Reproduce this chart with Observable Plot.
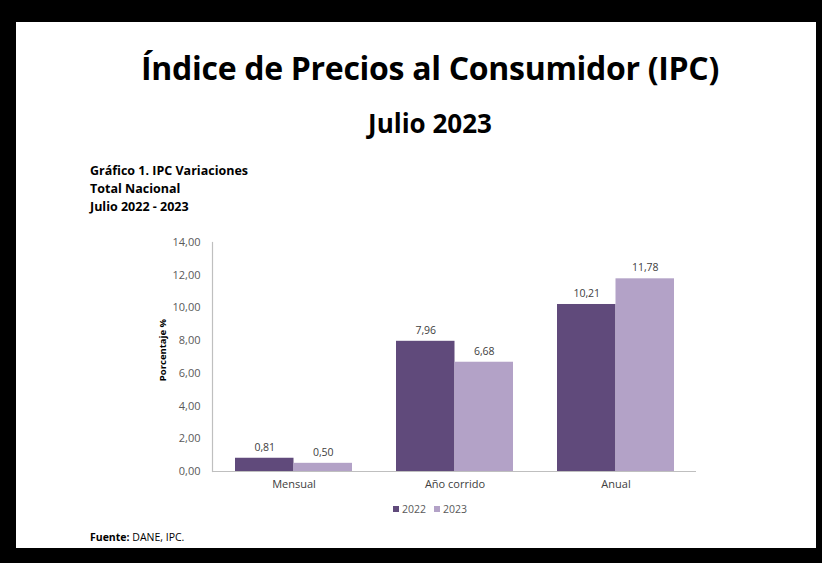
<!DOCTYPE html>
<html>
<head>
<meta charset="utf-8">
<script src="https://cdn.jsdelivr.net/npm/d3@7"></script>
<script src="https://cdn.jsdelivr.net/npm/@observablehq/plot@0.6"></script>
<style>
  html, body { margin: 0; padding: 0; background: #000; }
  body { width: 822px; height: 563px; position: relative; overflow: hidden; font-family: "Open Sans", sans-serif; }
  #card { position: absolute; left: 16px; top: 22px; width: 800px; height: 526px; background: #fff; }
  .abs { position: absolute; white-space: nowrap; }
  #title { left: 0; width: 860px; top: 46px; text-align: center; font-weight: bold; font-size: 32px; line-height: 44px; color: #000; letter-spacing: -0.3px; }
  #subtitle { left: 0; width: 860px; top: 105px; text-align: center; font-weight: bold; font-size: 26px; line-height: 36px; color: #000; }
  #head { left: 90px; top: 162px; font-weight: bold; font-size: 12.5px; line-height: 18px; color: #000; }
  #chart { left: 0; top: 225px; }
  #legend { left: 0; width: 860px; top: 502px; text-align: center; font-size: 10.5px; color: #595959; }
  #legend span.sw { display: inline-block; width: 6px; height: 6px; margin-right: 3px; vertical-align: 1px; }
  #legend span.it { margin: 0 4px; }
  #source { left: 90px; top: 530px; font-size: 10.5px; color: #000; }
</style>
</head>
<body>
<div id="card"></div>
<div id="title" class="abs">Índice de Precios al Consumidor (IPC)</div>
<div id="subtitle" class="abs">Julio 2023</div>
<div id="head" class="abs">Gráfico 1. IPC Variaciones<br>Total Nacional<br>Julio 2022 - 2023</div>
<div id="chart" class="abs"></div>
<div id="legend" class="abs"></div>
<div id="source" class="abs"><b>Fuente:</b> DANE, IPC.</div>
<script>
const categories = ["Mensual", "Año corrido", "Anual"];
const years = ["2022", "2023"];
const values2022 = [0.81, 7.96, 10.21];
const values2023 = [0.50, 6.68, 11.78];
const yTicks = [0, 2, 4, 6, 8, 10, 12, 14];
const colors = ["#604a7b", "#b3a2c7"];

const fmt = d => d.toFixed(2).replace(".", ",");
const d22 = categories.map((c, i) => ({category: c, year: years[0], value: values2022[i]}));
const d23 = categories.map((c, i) => ({category: c, year: years[1], value: values2023[i]}));

const half = 58.5;
const chart = Plot.plot({
  width: 822,
  height: 276,
  marginLeft: 212,
  marginRight: 126,
  marginTop: 17,
  marginBottom: 30,
  style: {fontFamily: "Open Sans, sans-serif", fontSize: "11px", color: "#595959", background: "transparent"},
  x: {domain: categories, paddingInner: 0.275, paddingOuter: 0.1375, label: null},
  y: {domain: [0, 14], label: null},
  marks: [
    Plot.barY(d22, {x: "category", y: "value", fill: colors[0], insetLeft: 0, insetRight: half}),
    Plot.barY(d23, {x: "category", y: "value", fill: colors[1], insetLeft: half, insetRight: 0}),
    Plot.text(d22, {x: "category", y: "value", text: d => fmt(d.value), dx: -half / 2, dy: -11, fill: "#404040", fontSize: 10.5}),
    Plot.text(d23, {x: "category", y: "value", text: d => fmt(d.value), dx: half / 2, dy: -11, fill: "#404040", fontSize: 10.5}),
    Plot.ruleY([0], {stroke: "#bfbfbf", strokeWidth: 1.2}),
    Plot.frame({anchor: "left", stroke: "#bfbfbf", strokeWidth: 1.2}),
    Plot.axisY({ticks: yTicks, tickSize: 0, tickPadding: 12, tickFormat: fmt, fill: "#595959", fontSize: 11, label: null}),
    Plot.axisX({tickSize: 0, tickPadding: 9, fill: "#404040", fontSize: 11, label: null}),
    Plot.text(["Porcentaje %"], {frameAnchor: "left", textAnchor: "middle", dx: -50, dy: -7, rotate: -90, fill: "#000", fontWeight: "bold", fontSize: 9.5})
  ]
});
document.getElementById("chart").appendChild(chart);

const legend = document.getElementById("legend");
years.forEach((y, i) => {
  const it = document.createElement("span");
  it.className = "it";
  const sw = document.createElement("span");
  sw.className = "sw";
  sw.style.background = colors[i];
  it.appendChild(sw);
  it.appendChild(document.createTextNode(y));
  legend.appendChild(it);
});
</script>
</body>
</html>
